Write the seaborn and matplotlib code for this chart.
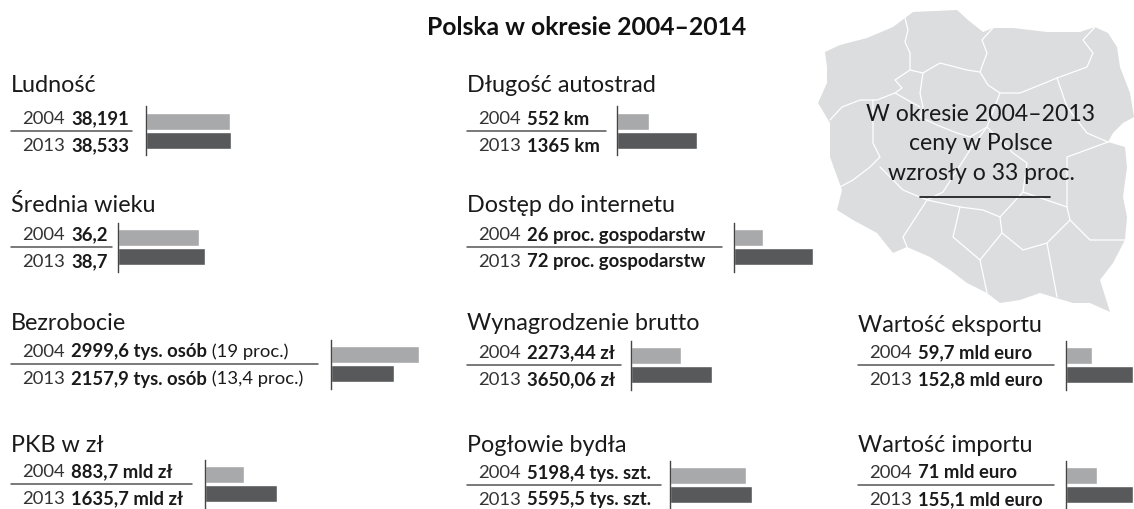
import seaborn as sb
import pandas as pd
import matplotlib.pyplot as plt

mf = ['Lato', 'DejaVu Sans']
sb.set_theme(style="white")
plt.rcParams['font.family'] = mf

chart_title = "Polska w okresie 2004–2014"
map_text = "W okresie 2004–2013\nceny w Polsce\nwzrosły o 33 proc."
years = ["2004", "2013"]
titles = ["Ludność", "Średnia wieku", "Bezrobocie", "PKB w zł",
          "Długość autostrad", "Dostęp do internetu", "Wynagrodzenie brutto", "Pogłowie bydła",
          "Wartość eksportu", "Wartość importu"]
values_2004 = [38.191, 36.2, 2999.6, 883.7, 552, 26, 2273.44, 5198.4, 59.7, 71]
values_2013 = [38.533, 38.7, 2157.9, 1635.7, 1365, 72, 3650.06, 5595.5, 152.8, 155.1]
labels_2004 = ["38,191", "36,2", "2999,6 tys. osób", "883,7 mld zł",
               "552 km", "26 proc. gospodarstw", "2273,44 zł", "5198,4 tys. szt.",
               "59,7 mld euro", "71 mld euro"]
labels_2013 = ["38,533", "38,7", "2157,9 tys. osób", "1635,7 mld zł",
               "1365 km", "72 proc. gospodarstw", "3650,06 zł", "5595,5 tys. szt.",
               "152,8 mld euro", "155,1 mld euro"]
notes_2004 = ["", "", " (19 proc.)", "", "", "", "", "", "", ""]
notes_2013 = ["", "", " (13,4 proc.)", "", "", "", "", "", "", ""]

# layout in pixels: left, rule end, axis x, rule y, title y, longest bar
layout = [(11, 132, 146, 131, 85, 85), (11, 112, 118, 247, 205, 87),
          (11, 318, 331, 364, 323, 88), (11, 192, 205, 484, 445, 72),
          (467, 606, 617, 131, 85, 80), (467, 722, 734, 247, 205, 79),
          (467, 621, 631, 365, 323, 81), (467, 661, 670, 485, 445, 82),
          (858, 1054, 1066, 365, 325, 67), (858, 1054, 1066, 485, 445, 67)]

# outline of the map, pixels
poland = [(825, 52), (840, 45), (867, 38), (893, 27), (905, 18), (913, 12), (957, 10), (968, 20),
          (983, 32), (993, 28), (1013, 28), (1047, 32), (1080, 32), (1095, 27), (1108, 33), (1117, 47),
          (1120, 67), (1130, 93), (1134, 117), (1123, 123), (1113, 133), (1108, 142), (1125, 147),
          (1127, 167), (1123, 197), (1127, 217), (1125, 240), (1113, 263), (1100, 280), (1110, 312),
          (1090, 303), (1073, 303), (1053, 297), (1040, 293), (1020, 300), (1000, 303), (987, 293),
          (967, 283), (950, 270), (930, 257), (907, 247), (893, 253), (877, 233), (853, 220),
          (837, 210), (842, 190), (830, 157), (830, 123), (818, 103), (827, 83), (827, 67)]
borders = [[(905, 18), (908, 30), (905, 42), (910, 53), (910, 70), (895, 80), (902, 88), (895, 93),
            (877, 100), (860, 100), (842, 107), (830, 120)],
           [(910, 70), (923, 73), (940, 63), (967, 70), (980, 72), (988, 85), (1000, 93), (1020, 93),
            (1040, 85), (1057, 78), (1087, 67), (1093, 53), (1083, 40), (1095, 27)],
           [(980, 72), (987, 53), (982, 40), (993, 28)],
           [(923, 73), (920, 93), (923, 107), (920, 117), (937, 125), (957, 133), (970, 137), (987, 127),
            (1000, 93)],
           [(873, 100), (873, 143), (880, 157), (870, 167), (853, 180), (840, 187)],
           [(895, 93), (920, 107)],
           [(987, 127), (970, 150), (943, 192), (927, 200)],
           [(880, 167), (903, 190), (927, 200), (960, 207), (983, 210), (1000, 217), (1023, 192),
            (1027, 163), (1013, 153), (987, 127)],
           [(927, 200), (903, 237), (907, 247)],
           [(960, 207), (953, 237), (980, 260)],
           [(1000, 217), (1002, 233), (980, 260), (987, 293)],
           [(1002, 233), (1023, 250), (1047, 243), (1070, 220)],
           [(1047, 243), (1057, 297)],
           [(1023, 192), (1067, 207), (1070, 220), (1090, 240), (1125, 240)],
           [(1108, 142), (1067, 157), (1067, 207)],
           [(1057, 78), (1067, 107), (1087, 133), (1108, 142)]]

fig = plt.figure(figsize=(11.34, 5.09), dpi=100)
bg = fig.add_axes([0, 0, 1, 1])
bg.set_xlim(0, 1134)
bg.set_ylim(509, 0)
bg.axis('off')

bg.fill(*zip(*poland), color='#dcddde', lw=0)
for b in borders:
    bg.plot(*zip(*b), color='white', lw=0.9)
bg.text(981, 144, map_text, ha='center', va='center', fontsize=16.6, color='#1a1a1a', linespacing=1.5)
bg.plot([920, 1050], [197, 197], color='#111111', lw=1.2)
bg.text(587, 27, chart_title, ha='center', va='center', fontsize=17.8, fontweight='bold', color='#111111')


def draw_row(i, year, y, label, note):
    left = layout[i][0]
    bg.text(left + 11, y, year, va='center', fontsize=13.3, color='#333333')
    t = bg.text(left + 60, y, label, va='center', fontsize=13.3, fontweight='bold', color='#1a1a1a')
    if note:
        bg.annotate(note, xy=(1, 0.5), xycoords=t, va='center', fontsize=13.3, color='#1a1a1a')


for i, name in enumerate(titles):
    left, rule_end, axis_x, rule_y, title_y, bar_px = layout[i]
    bg.text(left, title_y, name, va='center', fontsize=16.8, color='#1a1a1a')
    bg.plot([left, rule_end], [rule_y, rule_y], color='#555555', lw=1.1)
    draw_row(i, years[0], rule_y - 12, labels_2004[i], notes_2004[i])
    draw_row(i, years[1], rule_y + 15, labels_2013[i], notes_2013[i])

    df = pd.DataFrame({"rok": years, "v": [values_2004[i], values_2013[i]]})
    ax = fig.add_axes([axis_x / 1134, 1 - (rule_y + 24.5) / 509, bar_px / 1134, 49 / 509])
    ax.patch.set_alpha(0)
    sb.barplot(data=df, x="v", y="rok", hue="rok", palette=['#a8a9ab', '#58595b'],
               width=0.9, legend=False, ax=ax)
    ax.set_xlim(0, max(df["v"]))
    ax.set_ylim(1.79, -0.79)
    ax.set_xlabel("")
    ax.set_ylabel("")
    ax.set_xticks([])
    ax.set_yticks([])
    sb.despine(ax=ax, top=True, right=True, bottom=True)
    ax.spines['left'].set_color('#444444')
    ax.spines['left'].set_linewidth(1)

fig.savefig("out.png", dpi=100)
